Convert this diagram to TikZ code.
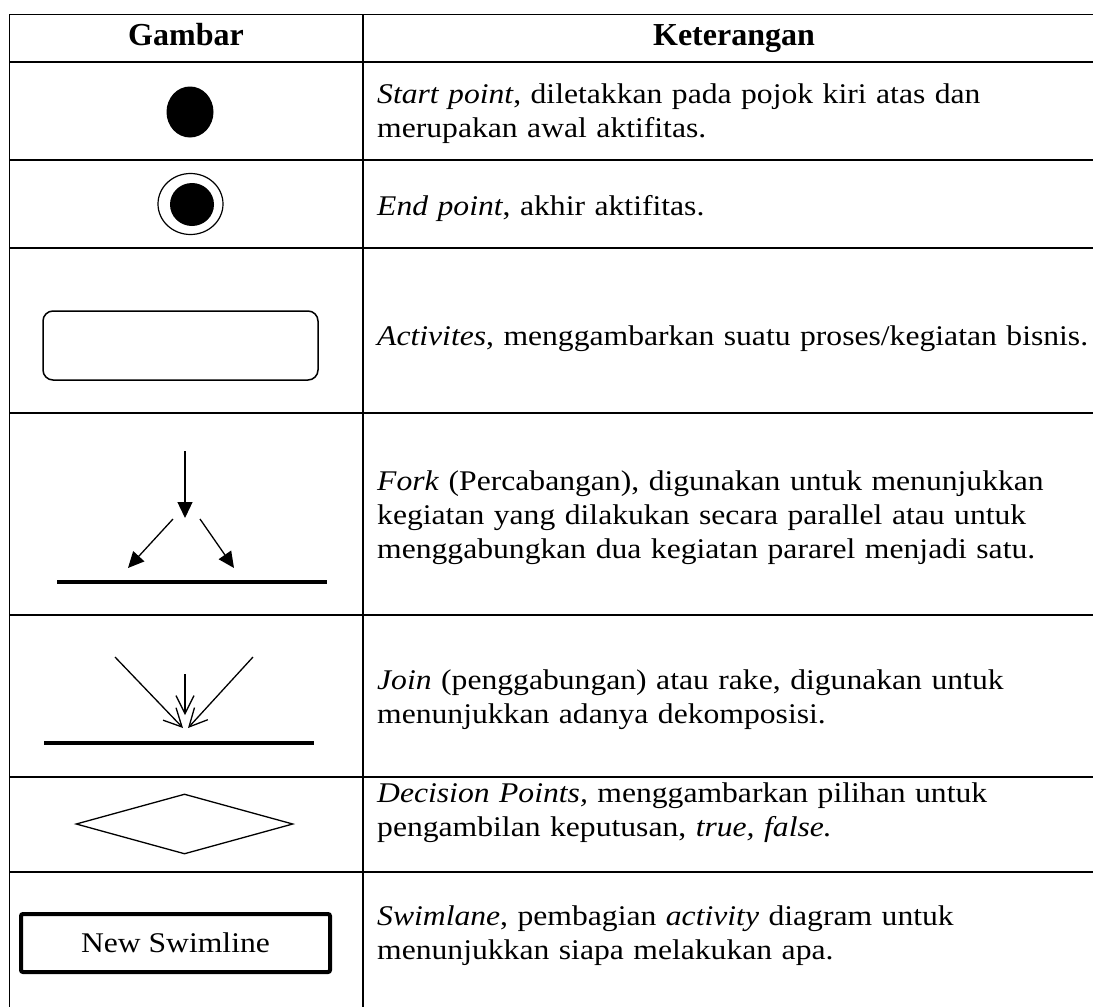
\documentclass[tikz,border=0pt]{standalone}
\usepackage{fontspec}
\setmainfont{Liberation Serif}[FakeStretch=1.11]
\newfontfamily\headfont{Liberation Serif}
\usepackage{tikz}
\usetikzlibrary{arrows.meta, positioning, shapes.geometric}

\begin{document}
\begin{tikzpicture}[
  x=1pt, y=-1pt,
  font=\fontsize{28.5}{34}\selectfont,
  grid/.style={line width=1.2pt, draw=black},
  head/.style={anchor=base, inner sep=0pt, font=\headfont\fontsize{32}{34}\selectfont\bfseries},
  cell/.style={anchor=base west, inner sep=0pt, text width=740pt, align=left},
  startdot/.style={ellipse, fill=black, inner sep=0pt},
  activity/.style={rectangle, rounded corners=10pt, draw, line width=1.5pt, minimum width=275pt, minimum height=69pt},
  forkarrow/.style={-{Triangle[length=16pt,width=15pt]}, line width=1.3pt},
  joinarrow/.style={-{Straight Barb[length=18pt,width=18pt]}, line width=1.3pt},
  bar/.style={line width=4pt},
  decision/.style={diamond, draw, line width=1.3pt, inner sep=0pt, minimum width=217pt, minimum height=60pt},
  lane/.style={rectangle, draw, line width=4pt, rounded corners=2pt, minimum width=309pt, minimum height=58pt}
]
\useasboundingbox (0,0) rectangle (1093,1007);

% table
\draw[grid] (9.5,1020) -- (9.5,14.5) -- (1105,14.5);
\draw[grid] (363,14.5) -- (363,1020);
\foreach \yy in {62,160,248,413,615,777,872}
  \draw[grid] (9.5,\yy) -- (1105,\yy);

\node[head] (hdrA) at (186,45) {Gambar};
\node[head] (hdrB) at (734,45) {Keterangan};

% symbols
\node[startdot, minimum width=47pt, minimum height=51pt] (start) at (190,112) {};

\node[ellipse, draw, line width=1.2pt, inner sep=0pt, minimum width=65pt, minimum height=61pt] (endout) at (190.5,204) {};
\node[startdot, minimum width=44pt, minimum height=43pt] (endin) at (192,204.5) {};

\node[activity] (act) at (180.5,345.5) {};

\coordinate (f0) at (185,451);
\coordinate (f1) at (185,518);
\coordinate (fl0) at (173,519);
\coordinate (fl1) at (128,568);
\coordinate (fr0) at (200,519);
\coordinate (fr1) at (234,568);
\coordinate (fbarL) at (57,582);
\coordinate (fbarR) at (327,582);
\draw[forkarrow] (f0) -- (f1);
\draw[forkarrow] (fl0) -- (fl1);
\draw[forkarrow] (fr0) -- (fr1);
\draw[bar] (fbarL) -- (fbarR);

\coordinate (jl0) at (115,657);
\coordinate (jl1) at (183,728);
\coordinate (jr0) at (253,657);
\coordinate (jr1) at (188,728);
\coordinate (jm0) at (185,674);
\coordinate (jm1) at (185,715);
\coordinate (jbarL) at (44,743);
\coordinate (jbarR) at (314,743);
\draw[joinarrow] (jl0) -- (jl1);
\draw[joinarrow] (jr0) -- (jr1);
\draw[joinarrow] (jm0) -- (jm1);
\draw[bar] (jbarL) -- (jbarR);

\node[decision] (dec) at (184.5,824) {};

\node[lane] (swim) at (175.5,943) {New Swimline};

% descriptions
\node[cell] (txtStart) at (377,103) {\textit{Start point}, diletakkan pada pojok kiri atas dan\\merupakan awal aktifitas.};
\node[cell] (txtEnd) at (377,215) {\textit{End point}, akhir aktifitas.};
\node[cell] (txtAct) at (377,345) {\textit{Activites}, menggambarkan suatu proses/kegiatan bisnis.};
\node[cell] (txtFork) at (377,490) {\textit{Fork} (Percabangan), digunakan untuk menunjukkan\\kegiatan yang dilakukan secara parallel atau untuk\\menggabungkan dua kegiatan pararel menjadi satu.};
\node[cell] (txtJoin) at (377,689) {\textit{Join} (penggabungan) atau rake, digunakan untuk\\menunjukkan adanya dekomposisi.};
\node[cell] (txtDec) at (377,802) {\textit{Decision Points,} menggambarkan pilihan untuk\\pengambilan keputusan, \textit{true, false.}};
\node[cell] (txtLane) at (377,925) {\textit{Swimlane}, pembagian \textit{activity} diagram untuk\\menunjukkan siapa melakukan apa.};
\end{tikzpicture}
\end{document}
